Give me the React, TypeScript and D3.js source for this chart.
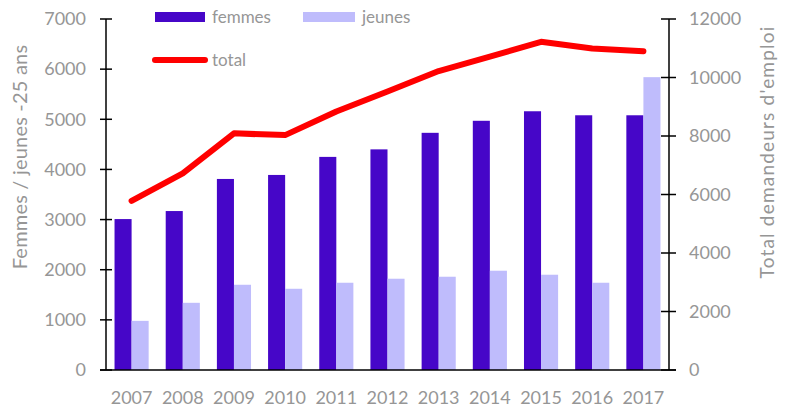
import React from "react";
import * as d3 from "d3";

const years = ["2007","2008","2009","2010","2011","2012","2013","2014","2015","2016","2017"];
const femmes = [3010, 3170, 3810, 3890, 4250, 4400, 4730, 4970, 5160, 5080, 5080];
const jeunes = [980, 1340, 1700, 1620, 1740, 1820, 1860, 1980, 1900, 1740, 5840];
const total = [5780, 6720, 8090, 8030, 8840, 9520, 10220, 10710, 11220, 10990, 10900];
const leftTicks = [0, 1000, 2000, 3000, 4000, 5000, 6000, 7000];
const rightTicks = [0, 2000, 4000, 6000, 8000, 10000, 12000];

const W = 787, H = 407;
const left = 106, right = 669, top = 19, bottom = 370;
const FONT = "Lato, 'Open Sans', sans-serif";
const GRAY = "#969696";
const C_F = "#4606C8";
const C_J = "#BFBCFC";
const C_T = "#FF0000";

export default function App() {
  const x = d3.scaleBand().domain(years).range([left, right]).paddingInner(1 / 3).paddingOuter(1 / 6);
  const yL = d3.scaleLinear().domain([0, 7000]).range([bottom, top]);
  const yR = d3.scaleLinear().domain([0, 12000]).range([bottom, top]);
  const bw = x.bandwidth() / 2;
  const line = d3.line<number>()
    .x((_, i) => (x(years[i]) as number) + x.bandwidth() / 2)
    .y((d) => yR(d));

  return (
    <svg width={W} height={H} style={{ position: "absolute", left: 0, top: 0, background: "#fff" }}>
      {years.map((yr, i) => (
        <g key={yr}>
          <rect x={x(yr)} y={yL(femmes[i])} width={bw} height={bottom - yL(femmes[i])} fill={C_F} />
          <rect x={(x(yr) as number) + bw} y={yL(jeunes[i])} width={bw} height={bottom - yL(jeunes[i])} fill={C_J} />
        </g>
      ))}
      <path d={line(total) || ""} fill="none" stroke={C_T} strokeWidth={6} strokeLinejoin="round" strokeLinecap="round" />
      {/* axes */}
      <line x1={left} x2={left} y1={top} y2={bottom} stroke="#000" strokeWidth={1.5} />
      <line x1={right} x2={right} y1={top} y2={bottom} stroke="#000" strokeWidth={1.5} />
      <line x1={left - 6} x2={right + 7} y1={bottom} y2={bottom} stroke="#000" strokeWidth={1.5} />
      {leftTicks.map((t) => (
        <g key={"l" + t}>
          <line x1={left - 6} x2={left + 6} y1={yL(t)} y2={yL(t)} stroke="#000" strokeWidth={1.5} />
          <text x={86} y={yL(t)} dy="0.35em" textAnchor="end" fill={GRAY} fontFamily={FONT} fontSize={18}>{t}</text>
        </g>
      ))}
      {rightTicks.map((t) => (
        <g key={"r" + t}>
          <line x1={right - 8} x2={right + 7} y1={yR(t)} y2={yR(t)} stroke="#000" strokeWidth={1.5} />
          <text x={689} y={yR(t)} dy="0.35em" textAnchor="start" fill={GRAY} fontFamily={FONT} fontSize={18}>{t}</text>
        </g>
      ))}
      {years.map((yr) => (
        <text key={"x" + yr} x={(x(yr) as number) + x.bandwidth() / 2} y={404} textAnchor="middle" fill={GRAY} fontFamily={FONT} fontSize={18}>{yr}</text>
      ))}
      <text transform={`translate(27,157) rotate(-90)`} textAnchor="middle" fill={GRAY} fontFamily={FONT} fontSize={20} letterSpacing={0.2}>Femmes / jeunes -25 ans</text>
      <text transform={`translate(774,152) rotate(-90)`} textAnchor="middle" fill={GRAY} fontFamily={FONT} fontSize={19} letterSpacing={1.2}>Total demandeurs d'emploi</text>
      {/* legend */}
      <rect x={155} y={12} width={50} height={10} fill={C_F} />
      <text x={212} y={17} dy="0.35em" fill={GRAY} fontFamily={FONT} fontSize={17}>femmes</text>
      <rect x={303} y={12} width={52} height={10} fill={C_J} />
      <text x={362} y={17} dy="0.35em" fill={GRAY} fontFamily={FONT} fontSize={17}>jeunes</text>
      <line x1={155} x2={205} y1={60} y2={60} stroke={C_T} strokeWidth={6} strokeLinecap="round" />
      <text x={212} y={60} dy="0.35em" fill={GRAY} fontFamily={FONT} fontSize={17}>total</text>
    </svg>
  );
}
